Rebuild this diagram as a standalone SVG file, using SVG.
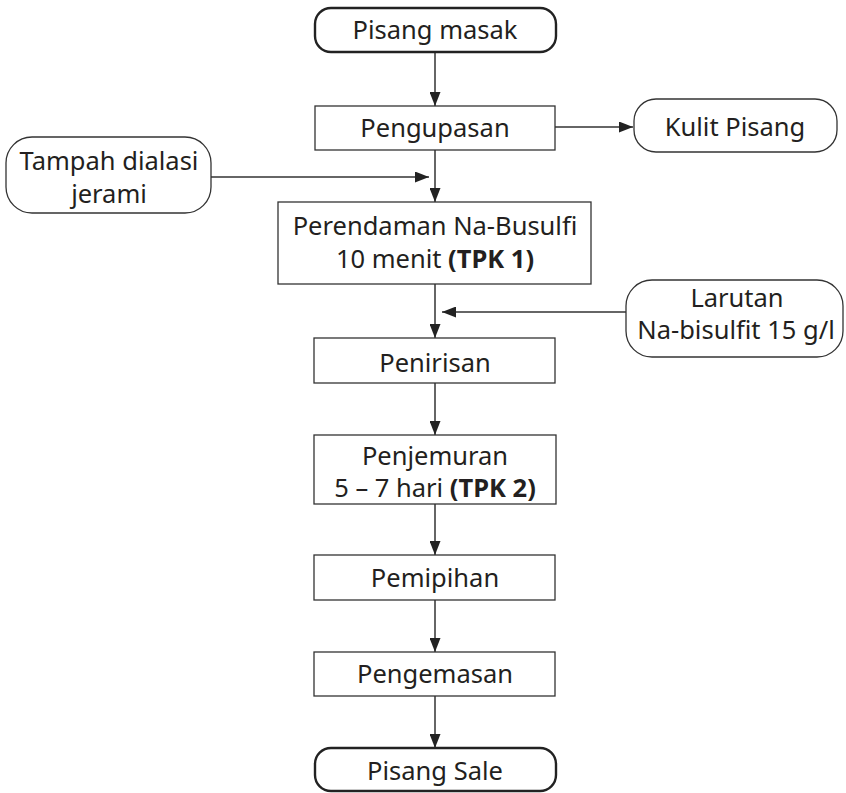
<svg xmlns="http://www.w3.org/2000/svg" width="846" height="793" viewBox="0 0 846 793">
<style>
.box{fill:#fff;stroke:#333;stroke-width:1.3}
.term{fill:#fff;stroke:#222;stroke-width:2.4}
.side{fill:#fff;stroke:#333;stroke-width:1.3}
.t{font-family:"Noto Sans","Open Sans",sans-serif;font-size:25.5px;fill:#231f20;text-anchor:middle}
.b{font-weight:bold}
.c{stroke:#333;stroke-width:1.5;fill:none;marker-end:url(#ah)}
</style>
<defs>
<marker id="ah" viewBox="0 0 14 11" refX="14" refY="5.5" markerWidth="14" markerHeight="11" markerUnits="userSpaceOnUse" orient="auto">
<path d="M0,0 L14,5.5 L0,11 z" fill="#222"/>
</marker>
</defs>
<rect width="846" height="793" fill="#fff"/>
<g id="connectors">
<line class="c" x1="435" y1="52" x2="435" y2="106"/>
<line class="c" x1="555" y1="127" x2="633" y2="127"/>
<line class="c" x1="435" y1="150" x2="435" y2="202"/>
<line class="c" x1="211" y1="177" x2="429" y2="177"/>
<line class="c" x1="435" y1="284" x2="435" y2="338"/>
<line class="c" x1="626" y1="312" x2="442" y2="312"/>
<line class="c" x1="435" y1="383" x2="435" y2="435"/>
<line class="c" x1="435" y1="504" x2="435" y2="555"/>
<line class="c" x1="435" y1="600" x2="435" y2="652"/>
<line class="c" x1="435" y1="696" x2="435" y2="748"/>
</g>
<g id="n1"><rect class="term" x="315" y="8" width="241" height="44" rx="16"/><text class="t" x="435" y="39">Pisang masak</text></g>
<g id="n2"><rect class="box" x="315" y="106" width="240" height="44"/><text class="t" x="435" y="137">Pengupasan</text></g>
<g id="n3"><rect class="side" x="634" y="99" width="203" height="53" rx="22"/><text class="t" x="735" y="136">Kulit Pisang</text></g>
<g id="n4"><rect class="side" x="6" y="137" width="205" height="76" rx="26"/><text class="t" x="109" y="170">Tampah dialasi</text><text class="t" x="109" y="203">jerami</text></g>
<g id="n5"><rect class="box" x="278" y="202" width="313" height="82"/><text class="t" x="435" y="235">Perendaman Na-Busulfi</text><text class="t" x="435" y="268">10 menit <tspan class="b">(TPK 1)</tspan></text></g>
<g id="n6"><rect class="side" x="626" y="280" width="217" height="77" rx="26"/><text class="t" x="737" y="307">Larutan</text><text class="t" x="736" y="339">Na-bisulfit 15 g/l</text></g>
<g id="n7"><rect class="box" x="314" y="338" width="241" height="45"/><text class="t" x="435" y="372">Penirisan</text></g>
<g id="n8"><rect class="box" x="314" y="435" width="242" height="69"/><text class="t" x="435" y="465">Penjemuran</text><text class="t" x="435" y="497">5 – 7 hari <tspan class="b">(TPK 2)</tspan></text></g>
<g id="n9"><rect class="box" x="314" y="555" width="241" height="45"/><text class="t" x="435" y="587">Pemipihan</text></g>
<g id="n10"><rect class="box" x="314" y="652" width="241" height="44"/><text class="t" x="435" y="683">Pengemasan</text></g>
<g id="n11"><rect class="term" x="315" y="748" width="241" height="43" rx="16"/><text class="t" x="435" y="780">Pisang Sale</text></g>
</svg>
